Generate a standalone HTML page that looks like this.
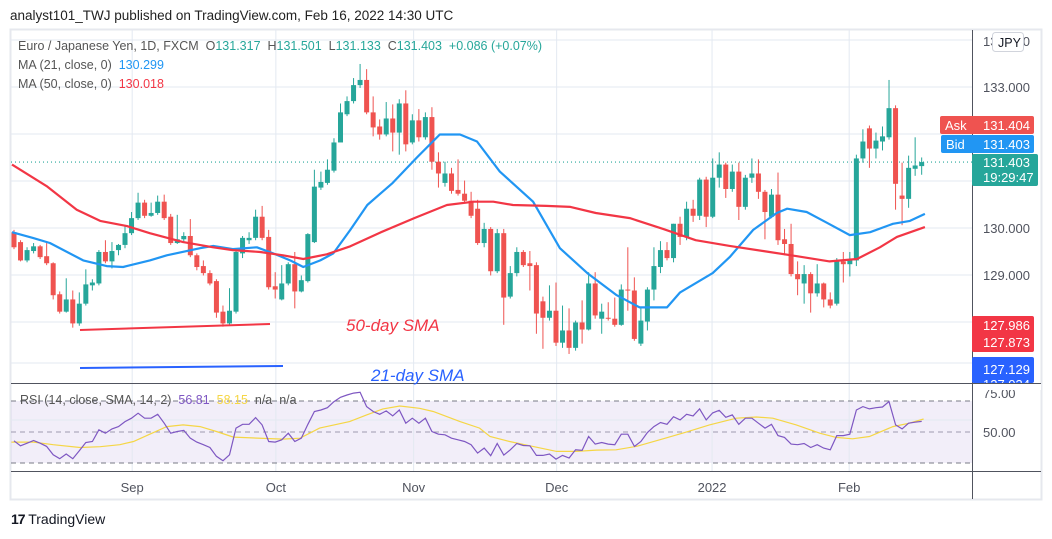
<!DOCTYPE html>
<html><head><meta charset="utf-8">
<style>
body{margin:0;width:1052px;height:539px;background:#fff;font-family:"Liberation Sans","DejaVu Sans",sans-serif;overflow:hidden;position:relative}
.t{position:absolute;white-space:nowrap}
</style></head>
<body>
<div class="t" style="left:10px;top:8px;font-size:13.5px;color:#222">analyst101_TWJ published on TradingView.com, Feb 16, 2022 14:30 UTC</div>
<svg id="chart" width="1052" height="539" style="position:absolute;left:0;top:0" xmlns="http://www.w3.org/2000/svg"></svg>
<script>
const opens=[129.91,129.70,129.31,129.51,129.61,129.40,129.25,128.59,128.22,128.48,127.97,128.39,128.78,128.82,129.49,129.29,129.53,129.64,129.89,130.21,130.54,130.26,130.32,130.56,130.24,129.68,129.76,129.83,129.42,129.19,129.04,128.87,128.22,127.97,128.22,129.46,129.74,129.79,130.24,129.81,128.76,128.48,128.82,129.23,128.65,128.87,129.70,130.86,130.96,131.22,131.82,132.42,132.70,133.04,133.15,132.46,132.16,131.99,132.33,132.03,132.65,131.82,132.29,131.93,132.36,131.41,130.96,131.16,130.81,130.73,130.58,130.41,129.68,129.98,129.08,129.89,128.54,129.04,129.49,129.25,129.21,128.44,128.09,128.24,127.56,127.82,127.45,127.99,127.84,128.82,128.07,128.09,128.07,127.94,128.69,128.67,127.54,128.01,128.69,129.17,129.53,129.36,130.09,129.81,130.41,130.26,131.03,130.24,131.07,131.35,130.83,131.20,130.45,131.07,131.16,130.77,130.24,130.71,129.76,129.66,129.02,128.82,129.02,128.61,128.82,128.48,128.39,129.29,129.23,129.31,131.48,132.12,131.69,131.84,131.93,132.55,130.69,130.62,131.26,131.317];
const closes=[129.59,129.31,129.53,129.61,129.38,129.25,128.57,128.22,128.48,127.97,128.39,128.80,128.84,129.49,129.29,129.51,129.64,129.89,130.21,130.54,130.26,130.32,130.56,130.21,129.68,129.76,129.83,129.42,129.17,129.04,128.82,128.20,127.97,128.24,129.49,129.79,129.79,130.24,129.79,128.74,128.69,128.82,129.23,128.65,128.89,129.87,130.88,130.98,131.24,131.82,132.46,132.70,133.04,133.15,132.46,132.14,131.99,132.33,132.03,132.65,131.78,132.29,131.93,132.36,131.41,131.16,131.16,130.79,130.73,130.58,130.26,129.68,129.98,129.08,129.89,128.52,129.04,129.49,129.21,129.19,128.18,128.09,128.24,127.56,127.82,127.45,127.99,127.84,128.82,128.14,128.22,128.07,127.94,128.69,128.67,127.64,128.03,128.69,129.19,129.53,129.36,130.09,129.81,130.41,130.26,131.03,130.24,131.07,131.35,130.83,131.20,130.45,131.07,131.16,130.77,130.34,130.71,129.74,129.66,129.02,128.91,129.02,128.61,128.82,128.48,128.35,129.29,129.23,129.34,131.48,131.84,131.69,131.86,131.95,132.55,130.94,130.62,131.28,131.33,131.403];
const highs=[129.96,129.74,129.59,129.68,129.64,129.68,129.27,128.65,128.93,128.67,128.63,129.12,128.91,129.53,129.74,129.70,129.66,130.06,130.34,130.75,130.60,130.54,130.69,130.71,130.30,130.28,129.91,130.19,129.46,129.31,129.10,128.91,128.35,128.72,129.53,129.83,129.91,130.39,130.47,129.96,129.06,129.21,129.27,129.49,128.99,129.89,131.24,131.20,131.46,131.91,132.65,132.80,133.19,133.49,133.38,132.80,132.31,132.68,132.63,132.74,132.93,132.42,132.53,132.46,132.57,131.61,131.41,131.28,131.46,131.01,130.77,130.60,130.11,130.02,129.98,129.98,129.19,129.59,129.53,129.51,129.27,128.54,128.78,128.84,128.35,128.29,128.03,128.46,129.06,129.06,128.39,128.42,128.52,128.80,129.59,128.95,128.31,128.74,129.59,129.72,129.70,130.09,130.24,130.56,130.60,131.07,131.09,131.48,131.61,131.39,131.35,131.39,131.13,131.48,131.46,130.81,130.83,131.18,129.98,130.09,129.29,129.21,129.06,129.23,128.84,128.63,129.36,129.49,129.49,131.56,132.10,132.18,132.03,132.16,133.15,132.61,131.39,131.54,131.93,131.501];
const lows=[129.55,129.29,129.27,129.46,129.34,129.21,128.48,128.18,128.20,127.88,127.92,128.35,128.67,128.78,129.25,129.14,129.42,129.57,129.85,130.17,130.21,130.24,130.28,130.17,129.64,129.66,129.70,129.38,129.10,128.99,128.78,128.09,127.90,127.92,128.18,129.36,129.66,129.74,129.74,128.69,128.50,128.46,128.78,128.29,128.63,128.84,129.68,130.81,130.92,131.18,132.14,132.38,132.65,132.98,132.42,131.95,131.88,131.95,131.63,131.56,131.63,131.78,131.84,131.88,131.24,130.86,130.88,130.73,130.69,130.54,130.21,129.64,129.59,128.99,129.04,127.94,128.50,128.97,129.17,128.67,127.75,127.43,128.03,127.49,127.45,127.32,127.39,127.54,127.82,128.07,127.75,128.03,127.90,127.92,128.24,127.60,127.49,127.82,128.46,129.04,129.31,129.27,129.64,129.74,130.13,130.17,130.02,130.21,130.86,130.64,130.77,130.17,130.39,130.96,130.62,129.76,130.21,129.64,129.42,128.97,128.57,128.39,128.20,128.54,128.31,128.29,128.35,128.84,128.97,129.19,131.39,131.28,131.48,131.65,131.88,130.39,130.06,130.43,131.11,131.133];
const ma50Idx=[-0.3,5.1,9.6,13.2,17.3,20.8,25.9,30.5,33.5,37.7,41.2,44.3,47.9,51.5,56.2,61.3,66.3,70.4,73.4,76.4,81.5,85.2,89.1,94.3,99.4,104.4,109.6,114.7,119.9,124.9,129.1,132.6,135.2,139.5];
const ma50Val=[131.35,130.88,130.39,130.15,130.04,129.89,129.70,129.59,129.53,129.49,129.42,129.34,129.44,129.61,129.91,130.21,130.49,130.56,130.56,130.49,130.47,130.45,130.32,130.21,129.98,129.74,129.62,129.51,129.40,129.29,129.34,129.59,129.81,130.02];
const ma21Idx=[-0.3,2.9,5.5,10.6,14.2,16.7,20.8,23.4,28.5,30.5,33.5,37.2,39.7,42.3,44.3,46.9,48.9,51.5,54.1,58.0,61.7,65.2,68.3,70.9,74.4,79.5,83.6,87.8,92.3,95.8,100.0,102.0,107.0,109.6,113.2,116.8,118.4,121.4,124.5,128.0,131.1,134.6,137.2,139.5];
const ma21Val=[129.91,129.79,129.68,129.31,129.19,129.17,129.31,129.42,129.57,129.62,129.55,129.59,129.46,129.31,129.17,129.31,129.46,129.96,130.49,130.96,131.50,131.99,131.99,131.84,131.20,130.56,129.57,129.04,128.57,128.31,128.31,128.63,129.04,129.38,129.96,130.32,130.41,130.34,130.11,129.85,129.91,130.09,130.15,130.30];
const rsiVals=[44.3,41.1,42.8,44.5,42.8,40.7,35.3,32.8,35.8,32.8,37.9,43.2,43.9,51.4,49.2,52.0,53.5,56.7,58.9,62.1,58.9,58.9,61.4,55.7,49.2,50.3,51.0,46.0,43.5,41.8,40.0,34.3,31.5,35.3,52.5,55.0,55.0,59.3,54.6,43.9,43.5,45.0,49.2,43.9,46.0,55.0,63.2,64.2,65.7,69.6,72.4,73.9,75.1,75.6,66.4,63.2,61.4,63.6,60.4,64.2,55.7,58.9,55.7,58.9,50.3,48.6,48.2,46.0,45.0,43.9,41.8,36.4,39.6,34.7,42.6,35.1,38.5,42.6,41.3,41.1,34.9,34.9,35.8,32.5,34.9,33.2,38.5,38.1,47.1,42.2,43.2,42.2,41.8,48.6,48.6,40.7,43.9,49.7,53.5,56.1,55.0,59.9,57.8,61.4,60.4,64.9,57.8,62.3,64.0,59.5,61.0,55.0,58.9,58.9,55.7,52.5,55.0,47.7,46.5,42.2,41.8,42.6,40.0,41.8,39.6,38.5,47.7,47.7,48.6,64.2,66.4,64.9,65.7,66.1,69.6,54.6,52.0,55.7,56.3,56.81];
const rsiMaIdx=[-0.4,3.0,6.0,10.1,13.2,16.2,18.3,20.8,23.4,25.9,28.5,31.0,33.6,38.7,41.2,43.8,46.8,51.4,54.0,56.5,59.1,62.1,64.2,68.3,71.3,72.9,75.9,79.0,83.1,86.1,89.2,92.2,95.3,99.4,102.9,106.5,110.6,113.7,116.2,119.8,123.4,125.9,128.4,131.0,134.6,137.1,139.3];
const rsiMaVal=[43.5,43.5,41.8,40.0,40.5,41.8,43.9,48.6,53.5,54.6,53.5,50.3,46.7,45.8,45.4,46.0,52.5,56.7,61.0,64.9,66.8,65.3,63.2,56.7,52.5,47.1,43.9,41.1,37.5,37.5,38.3,38.5,40.7,45.6,49.9,54.6,58.9,59.7,58.9,54.6,49.2,46.5,45.6,47.1,53.5,55.7,58.4];
const monthLabels=["Sep","Oct","Nov","Dec","2022","Feb"];
const monthIdx=[18.1,40.1,61.2,83.1,106.9,127.9];
const priceTicks=[133,130,129];
const rsiTicks=[75,50];

const NS="http://www.w3.org/2000/svg";
const svg=document.getElementById('chart');
const X0=14, DX=6.53;
const xS=i=>X0+i*DX;
const yP=p=>228-(p-130)*47;
const yR=v=>432-(v-50)*1.55;
function mk(tag,attrs,parent){const e=document.createElementNS(NS,tag);for(const k in attrs)e.setAttribute(k,attrs[k]);(parent||svg).appendChild(e);return e;}

// frame
const frame=mk('rect',{x:10.5,y:29.5,width:1031,height:470,fill:'none',stroke:'#e6e8ee','stroke-width':2});


// RSI band
const band=mk('rect',{x:11,y:yR(70),width:961,height:yR(30)-yR(70),fill:'#7e57c2','fill-opacity':0.1});


// grid
const gridG=mk('g',{stroke:'#e3e9f1','stroke-width':1});


[134,133,132,131,130,129,128].forEach(p=>mk('line',{x1:11,x2:972,y1:yP(p),y2:yP(p)},gridG));
mk('line',{x1:11,x2:972,y1:363,y2:363},gridG);
mk('line',{x1:11,x2:972,y1:420,y2:420},gridG);
monthIdx.forEach(i=>{mk('line',{x1:xS(i),x2:xS(i),y1:30,y2:471},gridG);});
// rsi dashed
[70,50,30].forEach(v=>{const l=mk('line',{x1:11,x2:972,y1:yR(v),y2:yR(v),stroke:v==50?'#9e9aaf':'#787b86','stroke-dasharray':'5,4','stroke-width':1});

});
// axes lines
mk('line',{x1:972.5,x2:972.5,y1:30,y2:499,stroke:'#50535e','stroke-width':1});
mk('line',{x1:11,x2:1041,y1:383.5,y2:383.5,stroke:'#50535e','stroke-width':1});
mk('line',{x1:11,x2:1041,y1:471.5,y2:471.5,stroke:'#50535e','stroke-width':1});
// current price dotted line
const cl=mk('line',{x1:11,x2:972,y1:yP(closes[closes.length-1]),y2:yP(closes[closes.length-1]),stroke:'#26a69a','stroke-dasharray':'1,3','stroke-width':1.2});



// candles
for(let i=0;i<closes.length;i++){
  const up=closes[i]>=opens[i];const col=up?'#26a69a':'#ef5350';
  const g=mk('g',{});
  
  
  const x=xS(i);
  mk('line',{x1:x,x2:x,y1:yP(highs[i]),y2:yP(lows[i]),stroke:col,'stroke-width':1},g);
  const yt=yP(Math.max(opens[i],closes[i])),yb=yP(Math.min(opens[i],closes[i]));
  mk('rect',{x:x-2.5,y:yt,width:5,height:Math.max(1,yb-yt),fill:col},g);
}
function path(idx,vals,ys){let d='';for(let k=0;k<vals.length;k++){d+=(k?'L':'M')+xS(idx[k]).toFixed(1)+','+ys(vals[k]).toFixed(1);}return d;}
const m21=mk('path',{d:path(ma21Idx,ma21Val,yP),fill:'none',stroke:'#2196f3','stroke-width':2.2,'stroke-linejoin':'round'});


const m50=mk('path',{d:path(ma50Idx,ma50Val,yP),fill:'none',stroke:'#f23645','stroke-width':2.2,'stroke-linejoin':'round'});


// RSI lines
const rsiM=mk('path',{d:path(rsiMaIdx,rsiMaVal,yR),fill:'none',stroke:'#f5d645','stroke-width':1.2});


const rIdx=rsiVals.map((v,i)=>i);
const rsiL=mk('path',{d:path(rIdx,rsiVals,yR),fill:'none',stroke:'#7e57c2','stroke-width':1.2});



// annotations
const a1=mk('line',{x1:80,y1:330,x2:270,y2:324,stroke:'#f23645','stroke-width':2});


const a2=mk('line',{x1:80,y1:368,x2:283,y2:366,stroke:'#2962ff','stroke-width':2});


const t1=mk('text',{x:346,y:331,fill:'#f23645','font-size':17,'font-style':'italic','font-family':'Liberation Sans, sans-serif'});t1.textContent='50-day SMA';


const t2=mk('text',{x:371,y:381,fill:'#2962ff','font-size':17,'font-style':'italic','font-family':'Liberation Sans, sans-serif'});t2.textContent='21-day SMA';



// axis labels
priceTicks.forEach(p=>{const t=mk('text',{x:983,y:yP(p)+5,fill:'#50535e','font-size':13,'font-family':'Liberation Sans, sans-serif'});t.textContent=p.toFixed(3);

});
const tt=mk('text',{x:983,y:46,fill:'#50535e','font-size':13,'font-family':'Liberation Sans, sans-serif'});tt.textContent='134.000';
rsiTicks.forEach(v=>{const t=mk('text',{x:983,y:v==75?398:437,fill:'#50535e','font-size':13,'font-family':'Liberation Sans, sans-serif'});t.textContent=v.toFixed(2);

});
monthLabels.forEach((m,k)=>{const t=mk('text',{x:xS(monthIdx[k]),y:492,'text-anchor':'middle',fill:'#50535e','font-size':13,'font-family':'Liberation Sans, sans-serif'});t.textContent=m;

});

// badges
function badge(x,y,w,h,col,lines,name){const g=mk('g',{});


mk('rect',{x:x,y:y,width:w,height:h,rx:2,fill:col},g);
lines.forEach(l=>{const t=mk('text',{x:l[0],y:l[1],fill:'#fff','font-size':13,'font-family':'Liberation Sans, sans-serif'},g);t.textContent=l[2];});}
badge(940,116,94,18,'#ef5350',[[945,130,'Ask'],[983,130,'131.404']],'ask-badge');
badge(941,135,93,18,'#2196f3',[[946,149,'Bid'],[983,149,'131.403']],'bid-badge');
badge(972,154,66,32,'#26a69a',[[983,167,'131.403'],[983,182,'19:29:47']],'last-price-badge');
badge(972,316,62,36,'#f23645',[[983,330,'127.986'],[983,347,'127.873']],'ma-badge-red');
badge(972,357,62,26,'#2962ff',[[983,374,'127.129'],[983,389,'127.034']],'ma-badge-blue');
// cover overflow below pane
mk('rect',{x:973,y:384,width:68,height:6,fill:'#fff'});
mk('line',{x1:972,x2:1041,y1:383.5,y2:383.5,stroke:'#50535e','stroke-width':1});
// JPY button
const jb=mk('g',{});


mk('rect',{x:992.5,y:32.5,width:31,height:19,rx:3,fill:'#fff',stroke:'#d1d4dc'},jb);
const jt=mk('text',{x:998,y:47,fill:'#131722','font-size':12.5,'font-family':'Liberation Sans, sans-serif'},jb);jt.textContent='JPY';
</script>
<div class="t" style="left:18px;top:39px;font-size:12.5px;color:#555">Euro / Japanese Yen, 1D, FXCM&nbsp;&nbsp;<span style="color:#555">O</span><span style="color:#26a69a">131.317</span>&nbsp;&nbsp;H<span style="color:#26a69a">131.501</span>&nbsp;&nbsp;L<span style="color:#26a69a">131.133</span>&nbsp;&nbsp;C<span style="color:#26a69a">131.403&nbsp;&nbsp;+0.086 (+0.07%)</span></div>
<div class="t" style="left:18px;top:58px;font-size:12.5px;color:#555">MA (21, close, 0)&nbsp;&nbsp;<span style="color:#2196f3">130.299</span></div>
<div class="t" style="left:18px;top:77px;font-size:12.5px;color:#555">MA (50, close, 0)&nbsp;&nbsp;<span style="color:#f23645">130.018</span></div>
<div class="t" style="left:20px;top:393px;font-size:12.5px;color:#555">RSI (14, close, SMA, 14, 2)&nbsp;&nbsp;<span style="color:#7e57c2">56.81</span>&nbsp;&nbsp;<span style="color:#f5d645">58.15</span>&nbsp;&nbsp;n/a&nbsp;&nbsp;n/a</div>
<div class="t" style="left:11px;top:511px;font-size:14px;color:#131722"><b style="letter-spacing:-1px">17</b> TradingView</div>
</body></html>
